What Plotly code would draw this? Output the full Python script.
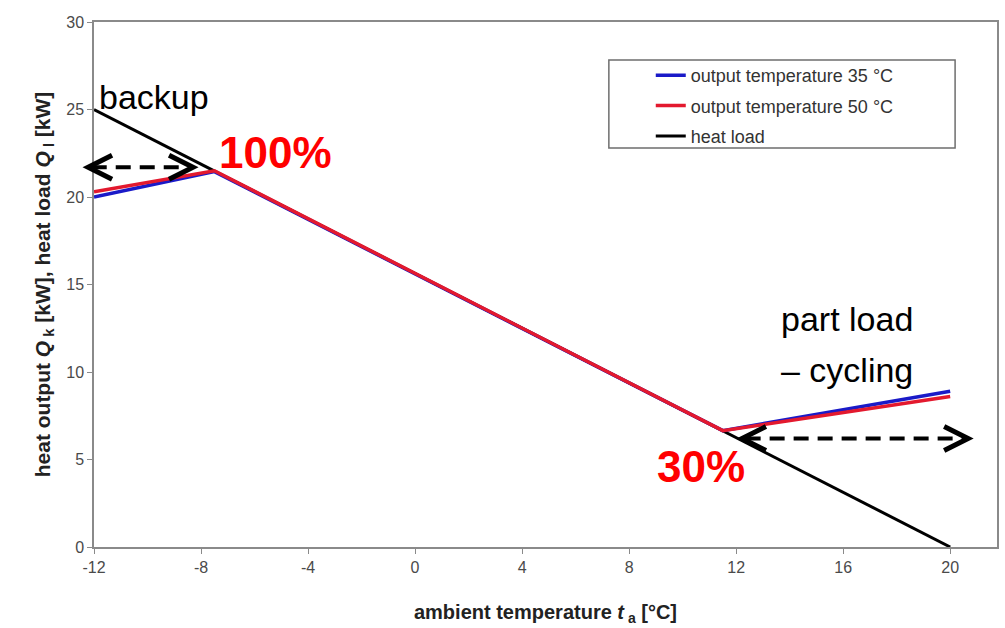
import plotly.graph_objects as go

# Heat load line and heat pump output curves (ambient temperature in °C, power in kW)
t_load = [-12, 20]
q_load = [25.0, 0.0]

t_35 = [-12, -7.5, 11.5, 20]
q_35 = [20.0, 21.45, 6.65, 8.9]

t_50 = [-12, -7.5, 11.5, 20]
q_50 = [20.3, 21.5, 6.65, 8.6]

x_ticks = [-12, -8, -4, 0, 4, 8, 12, 16, 20]
y_ticks = [0, 5, 10, 15, 20, 25, 30]

X_RANGE = [-12, 21.75]
Y_RANGE = [0, 30]

# Dashed double arrows: (x start, x end, y level)
arrow_backup = (-12.22, -8.3, 21.7)
arrow_cycling = (12.22, 20.67, 6.2)

TEXT_FONT = "Liberation Sans, Arial"

fig = go.Figure()

fig.add_trace(go.Scatter(
    x=t_load, y=q_load, mode="lines", name="heat load",
    line=dict(color="#000000", width=3), legendrank=3, legendgroup="c",
))
fig.add_trace(go.Scatter(
    x=t_35, y=q_35, mode="lines", name="output temperature 35 °C",
    line=dict(color="#1a1ac8", width=3.5), legendrank=1, legendgroup="a",
))
fig.add_trace(go.Scatter(
    x=t_50, y=q_50, mode="lines", name="output temperature 50 °C",
    line=dict(color="#e3192e", width=3.5), legendrank=2, legendgroup="b",
))


def px(x):
    return (x - X_RANGE[0]) / (X_RANGE[1] - X_RANGE[0])


def py(y):
    return (y - Y_RANGE[0]) / (Y_RANGE[1] - Y_RANGE[0])


shapes = []
# chevron size in paper units
cw = 24 / 905
ch = 12 / 525
for x0, x1, yv in (arrow_backup, arrow_cycling):
    a, b, c = px(x0), px(x1), py(yv)
    shapes.append(dict(
        type="line", xref="paper", yref="paper", x0=a + 0.004, x1=b - 0.004, y0=c, y1=c,
        line=dict(color="#000000", width=4, dash="15px,9px"),
    ))
    shapes.append(dict(
        type="path", xref="paper", yref="paper",
        path=f"M {a + cw} {c + ch} L {a} {c} L {a + cw} {c - ch}",
        line=dict(color="#000000", width=5),
    ))
    shapes.append(dict(
        type="path", xref="paper", yref="paper",
        path=f"M {b - cw} {c + ch} L {b} {c} L {b - cw} {c - ch}",
        line=dict(color="#000000", width=5),
    ))

# legend frame
shapes.append(dict(
    type="rect", xref="paper", yref="paper",
    x0=(610 - 94) / 905, x1=(957 - 94) / 905,
    y0=(547 - 148) / 525, y1=(547 - 60) / 525,
    line=dict(color="#6e6e6e", width=1.5), fillcolor="rgba(0,0,0,0)",
))

annotations = [
    dict(x=-11.9, y=25.7, text="backup", xanchor="left", yanchor="middle",
         font=dict(family=TEXT_FONT, size=34, color="#000000")),
    dict(x=-7.4, y=22.55, text="<b>100%</b>", xanchor="left", yanchor="middle",
         font=dict(family=TEXT_FONT, size=44, color="#ff0000")),
    dict(x=13.6, y=13.05, text="part load", xanchor="left", yanchor="middle",
         font=dict(family=TEXT_FONT, size=34, color="#000000")),
    dict(x=13.6, y=10.1, text="– cycling", xanchor="left", yanchor="middle",
         font=dict(family=TEXT_FONT, size=34, color="#000000")),
    dict(x=8.95, y=4.6, text="<b>30%</b>", xanchor="left", yanchor="middle",
         font=dict(family=TEXT_FONT, size=44, color="#ff0000")),
]
for an in annotations:
    an.update(xref="x", yref="y", showarrow=False)

axis_common = dict(
    showline=True, linecolor="#8a8a8a", linewidth=1.5, mirror=True,
    ticks="outside", ticklen=5, tickcolor="#8a8a8a", tickwidth=1,
    showgrid=False, zeroline=False,
    tickfont=dict(family=TEXT_FONT, size=16, color="#4a4a4a"),
)

fig.update_layout(
    width=1005, height=628,
    margin=dict(l=94, r=6, t=22, b=81),
    paper_bgcolor="white", plot_bgcolor="white",
    xaxis=dict(
        range=X_RANGE, tickvals=x_ticks, ticktext=[str(v) for v in x_ticks],
        title=dict(text="<b>ambient temperature <i>t</i><sub> a</sub> [°C]</b>",
                   font=dict(family=TEXT_FONT, size=20, color="#222222"), standoff=30),
        **axis_common,
    ),
    yaxis=dict(
        range=Y_RANGE, tickvals=y_ticks, ticktext=[str(v) for v in y_ticks],
        title=dict(text="<b>heat output <i>Q</i><sub> k</sub> [kW], heat load <i>Q</i><sub> l</sub> [kW]</b>",
                   font=dict(family=TEXT_FONT, size=21, color="#222222"), standoff=10),
        **axis_common,
    ),
    legend=dict(
        x=(652 - 94) / 905, y=(547 - 57) / 525, xanchor="left", yanchor="top",
        bgcolor="rgba(0,0,0,0)", borderwidth=0,
        font=dict(family=TEXT_FONT, size=18, color="#333333"),
        tracegroupgap=4, itemwidth=30,
    ),
    shapes=shapes,
    annotations=annotations,
)

fig.write_html("out.html")
